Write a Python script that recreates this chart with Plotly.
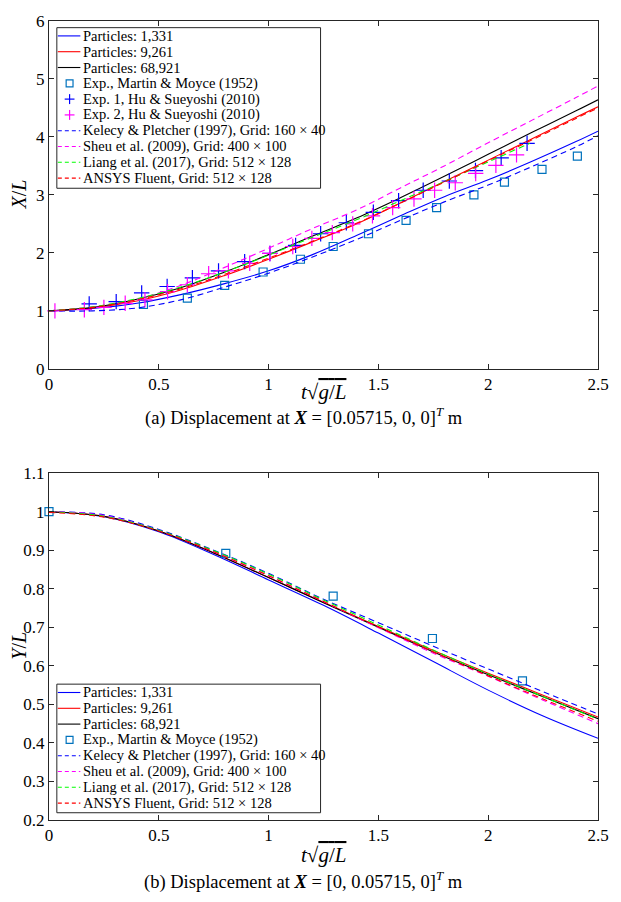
import plotly.graph_objects as go

# ---------------- data ----------------
# Top panel: X/L vs t*sqrt(g/L)
t_top = [0, 0.2, 0.4, 0.6, 0.8, 1.0, 1.2, 1.4, 1.6, 1.8, 2.0, 2.2, 2.4, 2.5]
top_p1331 = [1.00, 1.04, 1.13, 1.28, 1.47, 1.69, 1.97, 2.30, 2.64, 2.97, 3.26, 3.58, 3.92, 4.10]
top_p9261 = [1.00, 1.05, 1.17, 1.36, 1.61, 1.89, 2.19, 2.50, 2.86, 3.23, 3.60, 3.97, 4.34, 4.52]
top_p68921 = [1.00, 1.06, 1.20, 1.40, 1.67, 1.97, 2.29, 2.60, 2.95, 3.32, 3.70, 4.08, 4.45, 4.64]
top_kelecy = [1.00, 1.00, 1.05, 1.19, 1.41, 1.65, 1.93, 2.23, 2.56, 2.88, 3.17, 3.49, 3.83, 4.02]
top_sheu = [1.00, 1.07, 1.20, 1.44, 1.75, 2.08, 2.42, 2.74, 3.12, 3.50, 3.90, 4.29, 4.68, 4.88]
t_top_liang = [0, 0.2, 0.4, 0.6, 0.8, 1.0, 1.2, 1.4, 1.6, 1.8, 2.0, 2.19]
top_liang = [1.00, 1.07, 1.21, 1.41, 1.67, 1.96, 2.27, 2.57, 2.90, 3.23, 3.57, 3.89]
top_ansys = [1.00, 1.06, 1.19, 1.38, 1.63, 1.91, 2.20, 2.51, 2.86, 3.22, 3.59, 3.95, 4.32, 4.50]

t_mm_top = [0.43, 0.63, 0.80, 0.975, 1.145, 1.294, 1.455, 1.626, 1.765, 1.935, 2.074, 2.245, 2.406]
x_mm_top = [1.11, 1.22, 1.44, 1.67, 1.89, 2.11, 2.33, 2.56, 2.78, 3.00, 3.22, 3.44, 3.67]
t_hu1 = [0.183, 0.306, 0.422, 0.538, 0.653, 0.772, 0.891, 1.006, 1.123, 1.237, 1.354,
         1.477, 1.592, 1.704, 1.823, 1.942, 2.059, 2.177]
x_hu1 = [1.12, 1.16, 1.31, 1.42, 1.57, 1.69, 1.85, 1.99, 2.13, 2.33, 2.52,
         2.70, 2.90, 3.08, 3.24, 3.42, 3.64, 3.89]
t_hu2 = [0.027, 0.161, 0.25, 0.347, 0.437, 0.54, 0.63, 0.727, 0.817, 0.914, 1.006, 1.11,
         1.197, 1.29, 1.383, 1.473, 1.565, 1.662, 1.756, 1.85, 1.943, 2.035, 2.129]
x_hu2 = [1.00, 1.02, 1.06, 1.13, 1.19, 1.33, 1.45, 1.64, 1.69, 1.82, 1.99, 2.11,
         2.25, 2.35, 2.50, 2.64, 2.78, 2.93, 3.08, 3.21, 3.37, 3.51, 3.69]

# Bottom panel: Y/L vs t*sqrt(g/L)
t_bot = [0, 0.25, 0.5, 0.75, 1.0, 1.25, 1.5, 1.75, 2.0, 2.25, 2.5]
bot_p1331 = [1.000, 0.987, 0.948, 0.889, 0.823, 0.757, 0.685, 0.611, 0.537, 0.470, 0.412]
bot_p9261 = [1.000, 0.988, 0.950, 0.893, 0.829, 0.765, 0.702, 0.640, 0.581, 0.524, 0.467]
bot_p68921 = [1.000, 0.988, 0.950, 0.893, 0.829, 0.764, 0.700, 0.636, 0.577, 0.520, 0.463]
bot_kelecy = [1.000, 0.992, 0.954, 0.900, 0.840, 0.773, 0.712, 0.651, 0.592, 0.533, 0.475]
bot_sheu = [1.000, 0.990, 0.951, 0.896, 0.834, 0.767, 0.699, 0.633, 0.573, 0.511, 0.450]
bot_liang = [1.000, 0.988, 0.952, 0.899, 0.838, 0.771, 0.706, 0.641, 0.579, 0.520, 0.462]
bot_ansys = [0.998, 0.986, 0.950, 0.896, 0.834, 0.767, 0.701, 0.636, 0.574, 0.514, 0.456]

t_mm_bot = [0.0, 0.805, 1.294, 1.746, 2.156]
y_mm_bot = [1.00, 0.892, 0.781, 0.671, 0.561]

x_ticks = [0, 0.5, 1, 1.5, 2, 2.5]
y_ticks_top = [0, 1, 2, 3, 4, 5, 6]
y_ticks_bot = [0.2, 0.3, 0.4, 0.5, 0.6, 0.7, 0.8, 0.9, 1.0, 1.1]

# ---------------- styling ----------------
FONT = "Liberation Serif"
AX = "#262626"
BLUE, RED, BLACK = "#0000ff", "#ff0000", "#000000"
MAG, GREEN, MMC = "#ff00ff", "#00ff00", "#0072BD"
DASH = "6px,4px"
LW = 1.1

W, H = 621, 902
PL, PR, PT, PB = 49, 609, 16, 820   # pixel box covered by the paper


def px(xp):
    return (xp - PL) / (PR - PL)


def py(yp):
    return (PB - yp) / (PB - PT)


fig = go.Figure()


def line(x, y, color, dash, xa, ya):
    fig.add_trace(go.Scatter(x=x, y=y, mode="lines", xaxis=xa, yaxis=ya,
                             line=dict(color=color, width=LW, dash=dash, shape="spline", smoothing=1.0),
                             showlegend=False, hoverinfo="skip"))


def marks(x, y, symbol, color, size, xa, ya):
    fig.add_trace(go.Scatter(x=x, y=y, mode="markers", xaxis=xa, yaxis=ya,
                             marker=dict(symbol=symbol, size=size, color=color,
                                         line=dict(color=color, width=1.2)),
                             showlegend=False, hoverinfo="skip", cliponaxis=False))


# top panel
line(t_top, top_p1331, BLUE, "solid", "x", "y")
line(t_top, top_p9261, RED, "solid", "x", "y")
line(t_top, top_p68921, BLACK, "solid", "x", "y")
marks(t_mm_top, x_mm_top, "square-open", MMC, 8, "x", "y")
marks(t_hu1, x_hu1, "cross-thin-open", BLUE, 11, "x", "y")
marks(t_hu2, x_hu2, "cross-thin-open", MAG, 11, "x", "y")
line(t_top, top_kelecy, BLUE, DASH, "x", "y")
line(t_top, top_sheu, MAG, DASH, "x", "y")
line(t_top_liang, top_liang, GREEN, DASH, "x", "y")
line(t_top, top_ansys, RED, DASH, "x", "y")

# bottom panel
line(t_bot, bot_p1331, BLUE, "solid", "x2", "y2")
line(t_bot, bot_p9261, RED, "solid", "x2", "y2")
line(t_bot, bot_p68921, BLACK, "solid", "x2", "y2")
marks(t_mm_bot, y_mm_bot, "square-open", MMC, 8, "x2", "y2")
line(t_bot, bot_kelecy, BLUE, DASH, "x2", "y2")
line(t_bot, bot_sheu, MAG, DASH, "x2", "y2")
line(t_bot, bot_liang, GREEN, DASH, "x2", "y2")
line(t_bot, bot_ansys, RED, DASH, "x2", "y2")

axis_common = dict(showline=True, linecolor=AX, linewidth=1, mirror="ticks", ticks="inside",
                   ticklen=5, tickcolor=AX, showgrid=False, zeroline=False,
                   tickfont=dict(family=FONT, size=17, color="black"))

fig.update_layout(
    width=W, height=H, plot_bgcolor="white", paper_bgcolor="white",
    margin=dict(l=PL, r=W - PR, t=PT, b=H - PB), showlegend=False,
    xaxis=dict(domain=[0, 1], range=[0, 2.5], tickvals=x_ticks, anchor="y", **axis_common),
    yaxis=dict(domain=[py(366), 1], range=[0, 6], tickvals=y_ticks_top, anchor="x", **axis_common),
    xaxis2=dict(domain=[0, 1], range=[0, 2.5], tickvals=x_ticks, anchor="y2", **axis_common),
    yaxis2=dict(domain=[0, py(471)], range=[0.2, 1.1], tickvals=y_ticks_bot, anchor="x2", **axis_common),
)

shapes = []
annotations = []


def txt(x, y, s, size, xanchor="center", yanchor="middle", angle=0):
    annotations.append(dict(x=px(x), y=py(y), xref="paper", yref="paper", text=s, showarrow=False,
                            xanchor=xanchor, yanchor=yanchor, textangle=angle,
                            font=dict(family=FONT, size=size, color="black")))


xt = "<i>t</i>√<span style='text-decoration:overline'><i>g</i>/<i>L</i></span>"
txt(329, 389, xt, 21)
txt(329, 855, xt, 21)
txt(18, 191, "<i>X</i>/<i>L</i>", 20, angle=-90)
txt(18, 645, "<i>Y</i>/<i>L</i>", 20, angle=-90)
txt(309, 414, "(a) Displacement at <b><i>X</i></b> = [0.05715, 0, 0]<sup><i>T</i></sup> m", 18.5)
txt(309, 881, "(b) Displacement at <b><i>X</i></b> = [0, 0.05715, 0]<sup><i>T</i></sup> m", 18.5)


def legend(box, first_row, step, entries):
    x0, y0, x1, y1 = box
    shapes.append(dict(type="rect", xref="paper", yref="paper", x0=px(x0), x1=px(x1),
                       y0=py(y0), y1=py(y1), line=dict(color=AX, width=1), fillcolor="white",
                       layer="above"))
    for i, (name, kind, color) in enumerate(entries):
        yy = first_row + i * step
        if kind in ("solid", "dash"):
            shapes.append(dict(type="line", xref="paper", yref="paper", x0=px(58), x1=px(81),
                               y0=py(yy), y1=py(yy), layer="above",
                               line=dict(color=color, width=LW, dash="solid" if kind == "solid" else "4px,3px")))
        elif kind == "square":
            shapes.append(dict(type="rect", xref="paper", yref="paper", x0=px(66.5), x1=px(73.5),
                               y0=py(yy + 3.5), y1=py(yy - 3.5), layer="above",
                               line=dict(color=color, width=1.2)))
        elif kind == "plus":
            shapes.append(dict(type="line", xref="paper", yref="paper", x0=px(65), x1=px(75),
                               y0=py(yy), y1=py(yy), layer="above", line=dict(color=color, width=1.2)))
            shapes.append(dict(type="line", xref="paper", yref="paper", x0=px(70), x1=px(70),
                               y0=py(yy - 5), y1=py(yy + 5), layer="above", line=dict(color=color, width=1.2)))
        txt(82, yy, name, 14.5, xanchor="left")


top_entries = [
    ("Particles: 1,331", "solid", BLUE),
    ("Particles: 9,261", "solid", RED),
    ("Particles: 68,921", "solid", BLACK),
    ("Exp., Martin &amp; Moyce (1952)", "square", MMC),
    ("Exp. 1, Hu &amp; Sueyoshi (2010)", "plus", BLUE),
    ("Exp. 2, Hu &amp; Sueyoshi (2010)", "plus", MAG),
    ("Kelecy &amp; Pletcher (1997), Grid: 160 × 40", "dash", BLUE),
    ("Sheu et al. (2009), Grid: 400 × 100", "dash", MAG),
    ("Liang et al. (2017), Grid: 512 × 128", "dash", GREEN),
    ("ANSYS Fluent, Grid: 512 × 128", "dash", RED),
]
bot_entries = [e for e in top_entries if e[1] != "plus"]

legend((57, 22.7, 326, 184.3), 31, 15.9, top_entries)
legend((57, 683.3, 326, 812.7), 691.7, 15.9, bot_entries)

fig.update_layout(shapes=shapes, annotations=annotations)
fig.write_html("out.html", config={"displayModeBar": False},
               post_script="document.body.style.margin='0';")
